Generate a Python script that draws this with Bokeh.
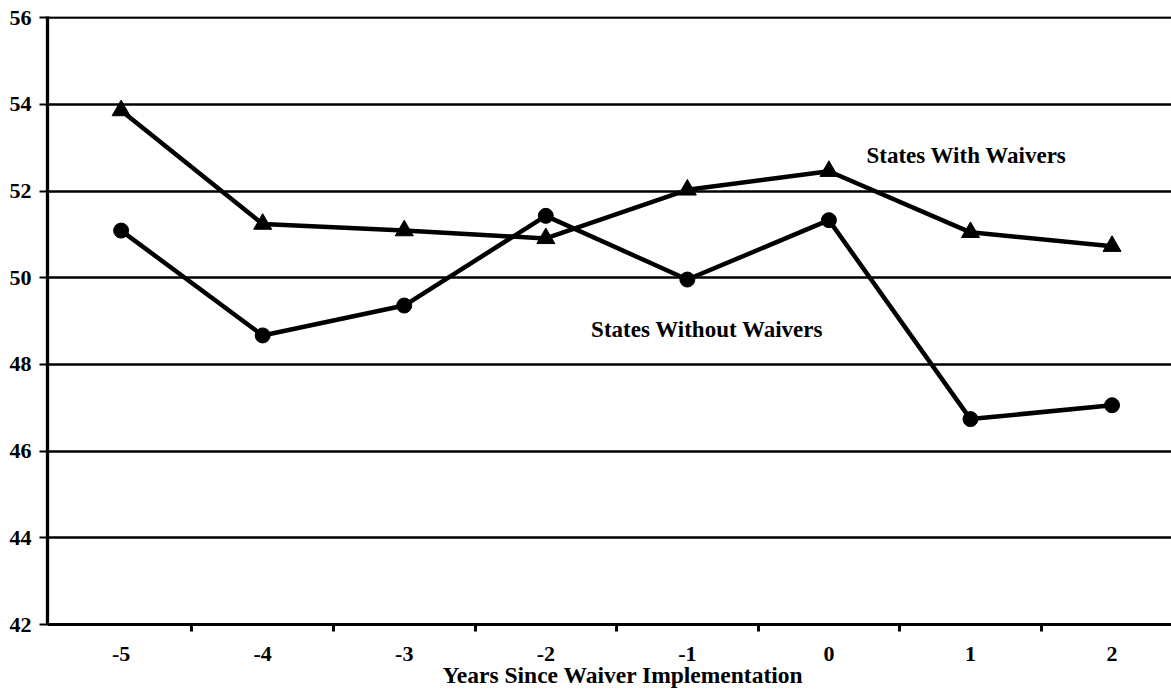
from bokeh.plotting import figure
from bokeh.models import Range1d, LinearAxis, FixedTicker, Label, Grid, Title
from bokeh.embed import file_html
from bokeh.resources import INLINE

years = [-5, -4, -3, -2, -1, 0, 1, 2]
year_labels = ["-5", "-4", "-3", "-2", "-1", "0", "1", "2"]
with_waivers = [53.86, 51.24, 51.09, 50.91, 52.03, 52.46, 51.05, 50.73]
without_waivers = [51.09, 48.67, 49.36, 51.43, 49.96, 51.33, 46.74, 47.06]
y_ticks = [42, 44, 46, 48, 50, 52, 54, 56]
x_bounds = [-4.5, -3.5, -2.5, -1.5, -0.5, 0.5, 1.5, 2.5]
x_title = "Years Since Waiver Implementation"
series_names = ["States With Waivers", "States Without Waivers"]

FONT = "Liberation Serif"

p = figure(width=1171, height=700, output_backend="svg", toolbar_location=None,
           x_range=Range1d(-5.52, 2.42), y_range=Range1d(42, 56.03),
           x_axis_type=None, y_axis_type=None,
           min_border_left=47, min_border_right=0, min_border_top=16, min_border_bottom=76)
p.outline_line_color = None
p.background_fill_color = "white"
p.border_fill_color = "white"

# y axis
yax = LinearAxis(ticker=FixedTicker(ticks=y_ticks))
yax.axis_line_width = 3.3
yax.axis_line_color = "black"
yax.major_tick_out = 8
yax.major_tick_in = 0
yax.major_tick_line_width = 2
yax.minor_tick_line_color = None
yax.major_label_text_font = FONT
yax.major_label_text_font_style = "bold"
yax.major_label_text_font_size = "22px"
yax.major_label_text_color = "black"
yax.major_label_standoff = 8
p.add_layout(yax, "left")

# x axis: labels at category centres, tick marks (minor) between categories
xax = LinearAxis(ticker=FixedTicker(ticks=years, minor_ticks=x_bounds))
xax.axis_line_width = 3
xax.axis_line_color = "black"
xax.major_tick_line_color = None
xax.major_tick_out = 0
xax.major_tick_in = 0
xax.minor_tick_out = 7
xax.minor_tick_in = 0
xax.minor_tick_line_width = 3
xax.minor_tick_line_color = "black"
xax.major_label_overrides = {y: s for y, s in zip(years, year_labels)}
xax.major_label_text_font = FONT
xax.major_label_text_font_style = "bold"
xax.major_label_text_font_size = "22px"
xax.major_label_text_color = "black"
xax.major_label_standoff = 15
p.add_layout(xax, "below")

p.add_layout(Title(text=x_title, align="left", offset=395, standoff=-8,
                   text_font=FONT, text_font_style="bold", text_font_size="23.5px",
                   text_color="black"), "below")

p.add_layout(Grid(dimension=1, ticker=yax.ticker, grid_line_color="black", grid_line_width=2.3))

# series
p.line(years, with_waivers, line_color="black", line_width=4.5)
p.scatter(years, with_waivers, marker="triangle", size=18, color="black")
p.line(years, without_waivers, line_color="black", line_width=4.5)
p.scatter(years, without_waivers, marker="circle", size=15, color="black")

p.add_layout(Label(x=0.265, y=52.82, text=series_names[0], text_font=FONT,
                   text_font_style="bold", text_font_size="23px", text_baseline="middle",
                   text_color="black"))
p.add_layout(Label(x=-1.68, y=48.81, text=series_names[1], text_font=FONT,
                   text_font_style="bold", text_font_size="23px", text_baseline="middle",
                   text_color="black"))

open("out.html", "w").write(file_html(p, INLINE))
